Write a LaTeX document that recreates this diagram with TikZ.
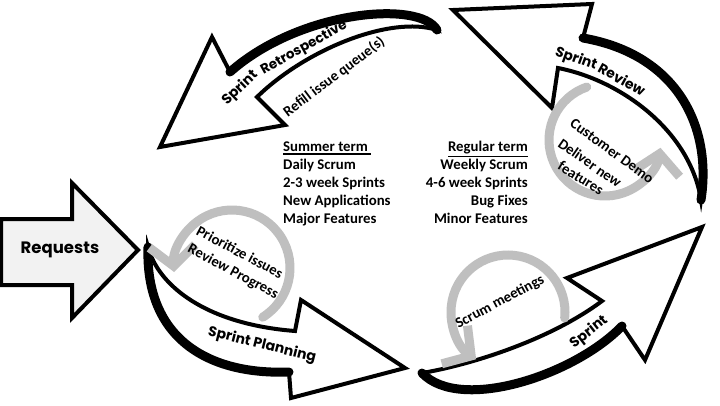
\documentclass[tikz,border=0pt]{standalone}
\usepackage{fontspec}
\setmainfont{Carlito}
\newfontfamily\geofont{Poppins}
\usetikzlibrary{arrows.meta}
\definecolor{loopgray}{RGB}{191,191,191}
\definecolor{reqfill}{RGB}{242,242,242}
\newcommand\ulbox[1]{\vtop{\hbox{#1}\kern1.6pt\hrule height 1.3pt}}
\begin{document}
\begin{tikzpicture}[x=1pt,y=-1pt,
  bodytext/.style={font=\fontsize{14.8}{18}\selectfont\bfseries, inner sep=0pt},
  geotext/.style={font=\geofont\fontsize{14}{16}\selectfont\bfseries, inner sep=0pt},
  grayloop/.style={draw=loopgray, line width=9pt, line cap=round, -{Straight Barb[length=20pt,width=46pt]}},
  arrowshape/.style={fill=white, draw=black, line width=4pt, line join=miter},
  reqshape/.style={fill=reqfill, draw=black, line width=4pt, line join=miter},
  outerrim/.style={draw=black, line width=9pt, line cap=round}]
\useasboundingbox (0,0) rectangle (720,405);
\fill[white] (0,0) rectangle (720,405);

% ---------- Requests ----------
\draw[reqshape] (1,219) -- (72,219) -- (72,183) -- (138,250) -- (72,318) -- (72,285) -- (1,285) -- cycle;
\node[geotext, font=\geofont\fontsize{16.5}{18}\selectfont\bfseries] (req) at (60,250) {Requests};

% ---------- Sprint Planning ----------
\coordinate (pT) at (148,247);
\coordinate (pN1) at (295,331);
\coordinate (pB1) at (301,300);
\coordinate (pTip) at (405,368);
\coordinate (pB2) at (291,398);
\coordinate (pN2) at (289,372);
\draw[arrowshape] (pT) .. controls (158,285) and (205,324) .. (pN1) -- (pB1) -- (pTip) -- (pB2) -- (pN2) .. controls (210,375) and (145,340) .. (pT) -- cycle;
\draw[outerrim] (pN2) .. controls (210,375) and (145,340) .. (pT);

% ---------- Sprint ----------
\coordinate (sT) at (422,373);
\coordinate (sN1) at (602,301);
\coordinate (sB1) at (567,278);
\coordinate (sTip) at (702,227);
\coordinate (sB2) at (645,360);
\coordinate (sN2) at (622,326);
\draw[arrowshape] (sT) .. controls (470,365) and (550,340) .. (sN1) -- (sB1) -- (sTip) -- (sB2) -- (sN2) .. controls (575,375) and (460,413) .. (sT) -- cycle;
\draw[outerrim] (sN2) .. controls (575,375) and (460,413) .. (sT);

% ---------- Sprint Review ----------
\coordinate (vT) at (701,200);
\coordinate (vNu) at (583,38);
\coordinate (vBu) at (592,4);
\coordinate (vTip) at (453,10);
\coordinate (vBl) at (552,108);
\coordinate (vNl) at (558,68);
\draw[arrowshape] (vT) .. controls (712,130) and (680,55) .. (vNu) -- (vBu) -- (vTip) -- (vBl) -- (vNl) .. controls (620,80) and (690,130) .. (vT) -- cycle;
\draw[outerrim] (vT) .. controls (712,130) and (680,55) .. (vNu);

% ---------- Sprint Retrospective ----------
\coordinate (rT) at (437,30);
\coordinate (rNu) at (230,72);
\coordinate (rBu) at (212,37);
\coordinate (rTip) at (160,147);
\coordinate (rBl) at (285,125);
\coordinate (rNl) at (257,97);
\draw[arrowshape] (rT) .. controls (420,0) and (300,10) .. (rNu) -- (rBu) -- (rTip) -- (rBl) -- (rNl) .. controls (305,50) and (390,15) .. (rT) -- cycle;
\draw[outerrim] (rT) .. controls (420,0) and (300,10) .. (rNu);

% ---------- gray loops ----------
\coordinate (c1) at (232,268);
\coordinate (c2) at (508,312);
\coordinate (c3) at (605,140);
\draw[grayloop] (c1) ++(58:58) arc[start angle=58, end angle=-184, radius=58];
\draw[grayloop] (c2) ++(6:57) arc[start angle=6, end angle=-236, radius=57];
\draw[grayloop] (c3) ++(251:56) arc[start angle=251, end angle=8, radius=56];

% ---------- arrow labels ----------
\node[geotext, rotate=44] (lretro1) at (240,88) {Sprint};
\node[geotext, font=\geofont\fontsize{13.5}{16}\selectfont\bfseries, rotate=29] (lretro2) at (304,48) {Retrospective};
\node[bodytext, rotate=37] (lrefill) at (334,77) {Refill issue queue(s)};
\node[geotext, rotate=-20] (lreview1) at (576,59) {Sprint};
\node[geotext, rotate=-29] (lreview2) at (622,79) {Review};
\node[bodytext, rotate=-36] (lcust) at (612,151) {Customer Demo};
\node[bodytext, rotate=-35] (ldeliv) at (590,163) {Deliver new};
\node[bodytext, rotate=-32] (lfeat) at (581,178) {features};
\node[bodytext, rotate=-28] (lprio) at (240,252) {Prioritize issues};
\node[bodytext, rotate=-28] (lrevp) at (233,272) {Review Progress};
\node[bodytext, rotate=28] (lscrum) at (500,302) {Scrum meetings};
\node[geotext, rotate=-14] (lplan) at (262,345) {Sprint Planning};
\node[geotext, rotate=38] (lsprint) at (589,332) {Sprint};

% ---------- term columns ----------
\node[bodytext, anchor=base west] (s1) at (283,151.5) {\ulbox{Summer term\ }};
\node[bodytext, anchor=base west] (s2) at (283,169.5) {Daily Scrum};
\node[bodytext, anchor=base west] (s3) at (283,187.5) {2-3 week Sprints};
\node[bodytext, anchor=base west] (s4) at (283,205.5) {New Applications};
\node[bodytext, anchor=base west] (s5) at (283,223.5) {Major Features};
\node[bodytext, anchor=base east] (g1) at (528,151.5) {\ulbox{Regular term}};
\node[bodytext, anchor=base east] (g2) at (528,169.5) {Weekly Scrum};
\node[bodytext, anchor=base east] (g3) at (528,187.5) {4-6 week Sprints};
\node[bodytext, anchor=base east] (g4) at (528,205.5) {Bug Fixes};
\node[bodytext, anchor=base east] (g5) at (528,223.5) {Minor Features};
\end{tikzpicture}
\end{document}
